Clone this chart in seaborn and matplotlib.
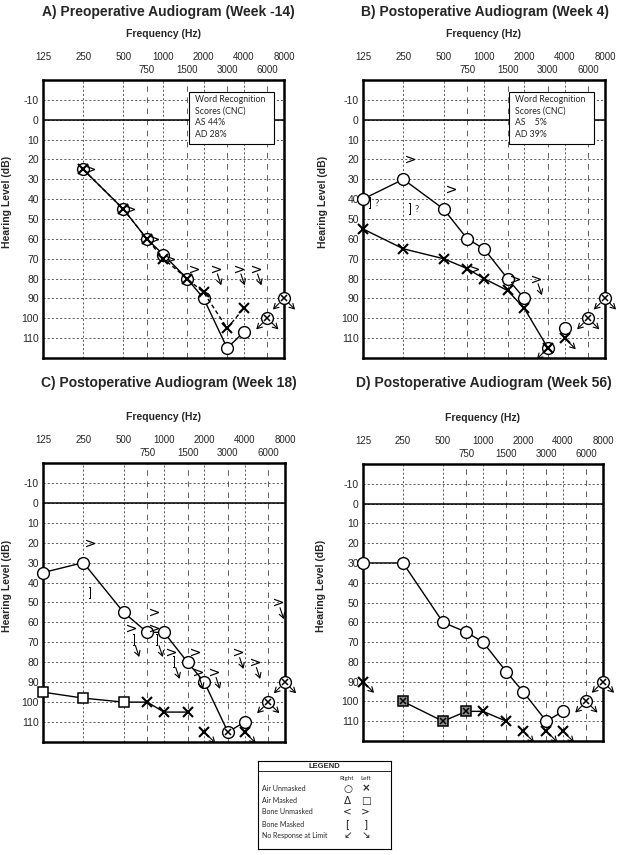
import matplotlib
matplotlib.use("Agg")
import matplotlib.pyplot as plt
import seaborn as sns
from matplotlib.transforms import offset_copy
from matplotlib.patches import Rectangle

sns.set_style("white")
plt.rcParams["font.family"] = ["Liberation Sans", "DejaVu Sans"]
plt.rcParams["lines.scale_dashes"] = False
plt.rcParams["axes.unicode_minus"] = False

# ---------------- data ----------------
OCTAVES = [125, 250, 500, 1000, 2000, 4000, 8000]
INTER = [750, 1500, 3000, 6000]
LEVELS = list(range(-10, 111, 10))

# A) week -14
A_R_F = [250, 500, 750, 1000, 1500, 2000, 3000, 4000]
A_R_DB = [25, 45, 60, 68, 80, 90, 115, 107]
A_L_F = [250, 500, 750, 1000, 1500, 2000, 3000, 4000]
A_L_DB = [25, 45, 60, 70, 80, 87, 105, 95]
A_NR_F = [6000, 8000]
A_NR_DB = [100, 90]
A_BONE_F = [250, 500, 750, 1000, 1500]
A_BONE_DB = [25, 45, 60, 70, 75]
A_BONE_NR_F = [2000, 3000, 4000]
A_BONE_NR_DB = [75, 75, 75]
A_WRS = ["Word Recognition", "Scores (CNC)", "AS 44%", "AD 28%"]

# B) week 4
B_R_F = [125, 250, 500, 750, 1000, 1500, 2000]
B_R_DB = [40, 30, 45, 60, 65, 80, 90]
B_R_SOLO_F = [4000]
B_R_SOLO_DB = [105]
B_R_NR_F = [3000]
B_R_NR_DB = [115]
B_L_F = [125, 250, 500, 750, 1000, 1500, 2000, 3000]
B_L_DB = [55, 65, 70, 75, 80, 86, 95, 115]
B_L_NR_F = [4000]
B_L_NR_DB = [110]
B_NR_F = [6000, 8000]
B_NR_DB = [100, 90]
B_BONE_F = [250, 500, 750, 1500]
B_BONE_DB = [20, 35, 75, 80]
B_BONE_M_F = [125, 250]
B_BONE_M_DB = [42, 45]
B_BONE_NR_F = [2000]
B_BONE_NR_DB = [80]
B_WRS = ["Word Recognition", "Scores (CNC)", "AS    5%", "AD 39%"]

# C) week 18
C_R_F = [125, 250, 500, 750, 1000, 1500, 2000, 3000, 4000]
C_R_DB = [35, 30, 55, 65, 65, 80, 90, 115, 110]
C_LM_F = [125, 250, 500]
C_LM_DB = [95, 98, 100]
C_LX_F = [750, 1000, 1500]
C_LX_DB = [100, 105, 105]
C_L_SOLO_F = [3000]
C_L_SOLO_DB = [115]
C_L_NR_F = [2000, 4000]
C_L_NR_DB = [115, 115]
C_NR_F = [6000, 8000]
C_NR_DB = [100, 90]
C_BONE_F = [250, 500, 750, 750, 1000, 1500]
C_BONE_DB = [20, 63, 55, 63, 75, 75]
C_BONE_M_F = [250]
C_BONE_M_DB = [45]
C_BONE_M_NR_F = [500, 750, 1000]
C_BONE_M_NR_DB = [69, 69, 80]
C_BONE_NR_F = [1500, 2000, 3000, 4000, 6000]
C_BONE_NR_DB = [85, 85, 75, 80, 50]

# D) week 56
D_R_F = [125, 250, 500, 750, 1000, 1500, 2000, 3000, 4000]
D_R_DB = [30, 30, 60, 65, 70, 85, 95, 110, 105]
D_LM_F = [250, 500, 750]
D_LM_DB = [100, 110, 105]
D_LX_F = [1000, 1500]
D_LX_DB = [105, 110]
D_L_NR_F = [125, 2000, 3000, 4000]
D_L_NR_DB = [90, 115, 115, 115]
D_NR_F = [6000, 8000]
D_NR_DB = [100, 90]

LEGEND_ROWS = ["Air Unmasked", "Air Masked", "Bone Unmasked", "Bone Masked", "No Response at Limit"]
LEGEND_RIGHT = ["\u25CB", "\u0394", "<", "[", "\u2199"]
LEGEND_LEFT = ["\u00D7", "\u25A1", ">", "]", "\u2198"]

# ---------------- helpers ----------------
fig = plt.figure(figsize=(6.24, 8.55), dpi=100)


def setup(ax, title, tx, ty, ylab_x):
    ax.set_xscale("log", base=2)
    ax.set_xlim(125, 8000)
    ax.set_ylim(120, -20)
    ax.xaxis.tick_top()
    ax.set_xticks(OCTAVES)
    ax.set_xticklabels([str(v) for v in OCTAVES])
    ax.set_xticks(INTER, minor=True)
    ax.set_xticklabels([str(v) for v in INTER], minor=True)
    ax.tick_params(axis="x", which="major", length=0, pad=13, labelsize=7)
    ax.tick_params(axis="x", which="minor", length=0, pad=3.8, labelsize=7)
    ax.set_yticks(LEVELS)
    ax.tick_params(axis="y", length=0, pad=3, labelsize=7.5)
    dot = (0, (1.5, 1.5))
    ax.grid(True, axis="x", which="major", color="#444444", lw=0.6, ls=dot)
    ax.grid(True, axis="x", which="minor", color="#444444", lw=0.6, ls=(0, (4, 4)))
    ax.grid(True, axis="y", which="major", color="#444444", lw=0.6, ls=dot)
    ax.set_axisbelow(True)
    ax.axhline(0, color="black", lw=1.1, zorder=1.5)
    for s in ax.spines.values():
        s.set_linewidth(1.8)
        s.set_color("black")
    ax.set_ylabel("Hearing Level (dB)", fontsize=7.5, fontweight="bold")
    ax.yaxis.set_label_coords(ylab_x, 0.56)
    ax.text(0.5, 1.166, "Frequency (Hz)", transform=ax.transAxes, ha="center",
            va="center", fontsize=7.5, fontweight="bold")
    fig.text(tx, ty, title, ha="center", va="center", fontsize=10, fontweight="bold")


def arrow(ax, f, db, dx, dy, xycoords="data", shrink=5):
    ax.annotate("", xy=(f, db), xycoords=xycoords, xytext=(dx, dy),
                textcoords="offset points", annotation_clip=False,
                arrowprops=dict(arrowstyle="<-,head_length=0.35,head_width=0.2",
                                lw=0.8, color="black", shrinkA=0, shrinkB=shrink))


def right_line(ax, f, db):
    sns.lineplot(x=f, y=db, ax=ax, color="black", lw=1, marker="o", markersize=8.5,
                 markerfacecolor="white", markeredgecolor="black", markeredgewidth=1,
                 estimator=None, sort=False, clip_on=False, zorder=3)


def left_line(ax, f, db, ls="-", marker="x"):
    sns.lineplot(x=f, y=db, ax=ax, color="black", lw=1, linestyle=ls, marker=marker,
                 markersize=6.5, markeredgecolor="black", markeredgewidth=1.5,
                 estimator=None, sort=False, clip_on=False, zorder=4)


def circles(ax, f, db):
    ax.plot(f, db, ls="none", marker="o", ms=8.5, mfc="white", mec="black", mew=1,
            clip_on=False, zorder=3)


def crosses(ax, f, db, ms=6.5, mew=1.5):
    ax.plot(f, db, ls="none", marker="x", ms=ms, mec="black", mew=mew,
            clip_on=False, zorder=5)


def both_nr(ax, f, db):
    circles(ax, f, db)
    crosses(ax, f, db, ms=5, mew=1.1)
    for fi, di in zip(f, db):
        arrow(ax, fi, di, -8, -8)
        arrow(ax, fi, di, 8, -8)


def bone(ax, f, db, sym="$>$", dx=7, nr=False, ms=6.5):
    tr = offset_copy(ax.transData, fig=fig, x=dx, y=0, units="dots")
    ax.plot(f, db, ls="none", marker=sym, ms=ms, color="black", mew=0,
            transform=tr, clip_on=False, zorder=4)
    if nr:
        for fi, di in zip(f, db):
            arrow(ax, fi, di, 4, -12, xycoords=tr, shrink=4)


def wrs_box(ax, x0, lines):
    ax.add_patch(Rectangle((x0, 0.770), 0.353, 0.187, transform=ax.transAxes,
                           facecolor="white", edgecolor="black", lw=0.8, zorder=6))
    ax.text(x0 + 0.024, 0.946, "\n".join(lines), transform=ax.transAxes, ha="left",
            va="top", fontsize=6.3, linespacing=1.38, family=["Lato", "DejaVu Sans"], zorder=7)


# ---------------- panel A ----------------
axA = fig.add_axes([0.0689, 0.5813, 0.3862, 0.3251])
setup(axA, "A) Preoperative Audiogram (Week -14)", 0.270, 0.986, -0.13)
right_line(axA, A_R_F, A_R_DB)
left_line(axA, A_L_F, A_L_DB, ls=(0, (3, 2)))
both_nr(axA, A_NR_F, A_NR_DB)
bone(axA, A_BONE_F, A_BONE_DB)
bone(axA, A_BONE_NR_F, A_BONE_NR_DB, dx=12, nr=True)
wrs_box(axA, 0.606, A_WRS)

# ---------------- panel B ----------------
axB = fig.add_axes([0.5817, 0.5813, 0.3878, 0.3251])
setup(axB, "B) Postoperative Audiogram (Week 4)", 0.777, 0.986, -0.145)
right_line(axB, B_R_F, B_R_DB)
left_line(axB, B_L_F, B_L_DB)
circles(axB, B_R_SOLO_F, B_R_SOLO_DB)
circles(axB, B_R_NR_F, B_R_NR_DB)
crosses(axB, B_R_NR_F, B_R_NR_DB, ms=5, mew=1.1)
for fi, di in zip(B_R_NR_F, B_R_NR_DB):
    arrow(axB, fi, di, -8, -8)
crosses(axB, B_L_NR_F, B_L_NR_DB)
for fi, di in zip(B_L_NR_F, B_L_NR_DB):
    arrow(axB, fi, di, 8, -8, shrink=3)
both_nr(axB, B_NR_F, B_NR_DB)
bone(axB, B_BONE_F, B_BONE_DB)
bone(axB, B_BONE_M_F, B_BONE_M_DB, sym="$]$", dx=7, ms=8)
for fi, di in zip(B_BONE_M_F, B_BONE_M_DB):
    axB.text(fi, di, "?", transform=offset_copy(axB.transData, fig=fig, x=14, units="dots"),
             ha="center", va="center", fontsize=7, family=["Lato", "DejaVu Sans"])
bone(axB, B_BONE_NR_F, B_BONE_NR_DB, dx=12, nr=True)
wrs_box(axB, 0.603, B_WRS)

# ---------------- panel C ----------------
axC = fig.add_axes([0.0689, 0.1322, 0.3878, 0.3263])
setup(axC, "C) Postoperative Audiogram (Week 18)", 0.270, 0.552, -0.13)
right_line(axC, C_R_F, C_R_DB)
sns.lineplot(x=C_LM_F + C_LX_F, y=C_LM_DB + C_LX_DB, ax=axC, color="black", lw=1,
             estimator=None, sort=False, zorder=3)
axC.plot(C_LM_F, C_LM_DB, ls="none", marker="s", ms=7, mfc="white", mec="black",
         mew=1.1, clip_on=False, zorder=4)
crosses(axC, C_LX_F, C_LX_DB)
crosses(axC, C_L_SOLO_F, C_L_SOLO_DB, ms=5, mew=1.1)
crosses(axC, C_L_NR_F, C_L_NR_DB)
for fi, di in zip(C_L_NR_F, C_L_NR_DB):
    arrow(axC, fi, di, 8, -8, shrink=3)
both_nr(axC, C_NR_F, C_NR_DB)
bone(axC, C_BONE_F, C_BONE_DB)
bone(axC, C_BONE_M_F, C_BONE_M_DB, sym="$]$", dx=7, ms=8)
bone(axC, C_BONE_M_NR_F, C_BONE_M_NR_DB, sym="$]$", dx=10, nr=True, ms=8)
bone(axC, C_BONE_NR_F, C_BONE_NR_DB, dx=10, nr=True)

# ---------------- panel D ----------------
axD = fig.add_axes([0.5817, 0.1333, 0.3846, 0.3240])
setup(axD, "D) Postoperative Audiogram (Week 56)", 0.776, 0.552, -0.155)
right_line(axD, D_R_F, D_R_DB)
sns.lineplot(x=D_LM_F + D_LX_F, y=D_LM_DB + D_LX_DB, ax=axD, color="black", lw=1,
             estimator=None, sort=False, zorder=3)
axD.plot(D_LM_F, D_LM_DB, ls="none", marker="s", ms=7, mfc="#8c8c8c", mec="black",
         mew=1.1, clip_on=False, zorder=4)
crosses(axD, D_LM_F, D_LM_DB, ms=5, mew=1.1)
crosses(axD, D_LX_F, D_LX_DB)
crosses(axD, D_L_NR_F, D_L_NR_DB)
for fi, di in zip(D_L_NR_F, D_L_NR_DB):
    arrow(axD, fi, di, 8, -8, shrink=3)
both_nr(axD, D_NR_F, D_NR_DB)

# ---------------- legend ----------------
lax = fig.add_axes([0.413, 0.0074, 0.2136, 0.1029])
lax.set_xlim(0, 1)
lax.set_ylim(0, 1)
lax.set_xticks([])
lax.set_yticks([])
for s in lax.spines.values():
    s.set_linewidth(0.8)
    s.set_color("black")
lax.axhline(0.88, color="black", lw=0.6)
lax.text(0.5, 0.936, "LEGEND", ha="center", va="center", fontsize=5.5, fontweight="bold")
lfam = ["Lato", "DejaVu Sans"]
lax.text(0.668, 0.795, "Right", ha="center", va="center", fontsize=4.5, family=lfam)
lax.text(0.81, 0.795, "Left", ha="center", va="center", fontsize=4.5, family=lfam)
row_y = [0.682, 0.545, 0.417, 0.28, 0.152]
for y, lab, r, l in zip(row_y, LEGEND_ROWS, LEGEND_RIGHT, LEGEND_LEFT):
    lax.text(0.035, y, lab, ha="left", va="center", fontsize=5, family=lfam)
    lax.text(0.675, y, r, ha="center", va="center", fontsize=7.5, family=["DejaVu Sans"])
    lax.text(0.81, y, l, ha="center", va="center", fontsize=7.5, family=["DejaVu Sans"],
             fontweight="bold" if l == "\u00D7" else "normal")

fig.savefig("out.png", dpi=100)
